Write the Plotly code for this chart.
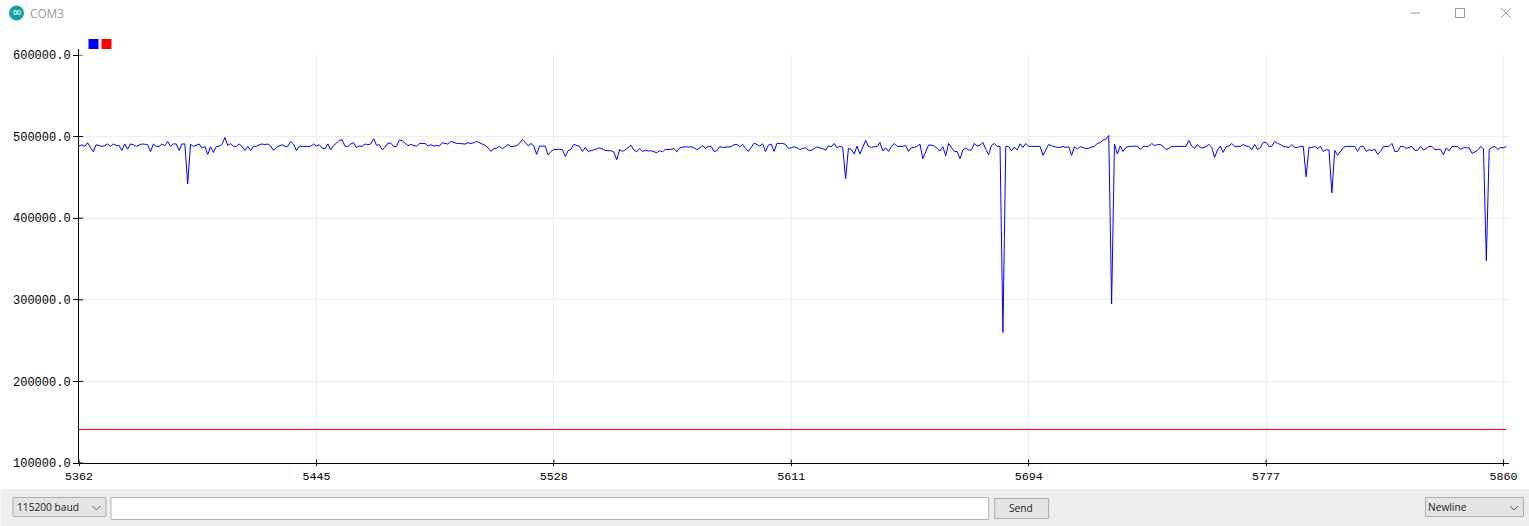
import plotly.graph_objects as go

x_start = 5362
blue_k = [
488.6,489.8,488,492.6,486.5,481.6,490,489,488,489,491,488,491,489,489,483,491,484.5,491,490,
488,489.5,491,490.6,490,481.6,491,488,488,491,488.6,494,488,491,491,483,491,491,442,490.5,
488,489.5,491,486,488,478,487.5,480.5,488,488,490.5,499,489,491.5,488,488,491,488,483,488,
483,488,488,490,491,490,491,488.5,483,487,489,490,488,488,494,491,483,488,488,488,
488,488,491,488.5,490,486,485,491,484,489,492,495.5,496,488,488,491,492.6,486.5,488.5,488,
491,490,491,497.5,489.5,490,484,487,492,492,488,488,495.9,494.9,492,488.8,490.4,489.6,488,491.6,
491.6,491.6,488.4,490,488.4,489.2,488.4,492.5,491.6,490.8,494.1,492.5,491.6,491.6,490.8,490.8,492.5,491.6,492.5,494.1,
492.5,490.8,489.2,486.3,481.8,485.1,485.9,488,485.1,487.6,490.4,487.6,488,488.8,491.6,496.5,492.9,488.8,491.6,488.4,
478.2,488.4,488.4,488.4,477.4,481.8,484.3,484.7,484.3,483.9,475.7,482.7,484.7,490.4,488.8,488,481.8,486.7,481.8,482.7,
483.5,484.7,486.3,484.3,483.1,482.7,482.7,481,471.6,484.3,481.8,483.9,486.3,489.2,483.5,481.4,485.5,481.8,483.1,482.3,
482.7,481.4,480.2,482.7,481.4,484.3,484.3,484.3,485.5,481.4,486.3,487.1,487.6,487.1,487.6,486.3,483.9,486.3,489.2,485.5,
488,488,481.8,482.7,487.6,486.7,486.7,487.1,487.6,490,490.4,487.6,490.4,485.5,481.8,486.7,492,490.4,488.4,491.2,
481.8,489.6,490.8,481.8,491.6,491.6,491.6,490.4,485.5,486.3,487.6,486.3,484.3,485.5,486.3,483.1,483.1,485.1,487.6,485.9,
485.5,483.1,488.8,487.6,491.6,486.3,488.4,486.7,448.4,485.5,484.3,478.6,488.4,478.6,487.6,495.3,488,486.7,487.6,487.6,
492.9,482.3,486.3,481.8,487.6,491.6,488,488,488,489.2,481.8,486.7,486.7,488,490.8,472.9,481.8,489.6,489.6,488.4,
485.5,482.3,487.6,476.5,491.6,486.7,481.8,481.8,472.9,483.5,485.9,483.5,483.5,491.6,488.4,489.6,492.9,484.3,477.8,489.2,
491.6,488,488,260,488,488,482.7,487.1,483.5,491.2,486.7,491.6,488,488,488,488,488,477,483.5,490.4,
488.8,487.6,486.7,486.7,488,486.7,487.6,477,487.6,484.7,487.6,486.7,485.1,485.9,487.1,488,491.6,492.5,495.7,496.9,
501.4,295,490.8,478.6,488.4,481.8,486.7,488,488,488.4,488.4,484.3,488,488,488,491.6,489.2,490,490.4,488,
484.3,485.5,488,488,488,488,488,488,495.3,488.4,485.5,490.4,486.3,486.3,487.6,490.4,486.7,474.5,483.5,488.4,
480.6,487.6,488.4,491.6,488,488,488,490.4,488.4,488,483.9,490.4,484.3,486.3,492.9,492.9,488,488,494.1,491.6,
490.4,488,487.6,486.7,490.4,486.7,486.7,488,488,450.8,486.7,486.7,488,485.5,488,481.8,483.9,483.5,431,483.1,
477,481.8,486.7,488,487.6,488,488,481.8,488,488,481.8,483.9,482.7,484.7,478.2,481.8,487.6,488,488,491.6,
481.8,481.8,488,488,485.5,486.7,488,483.1,483.1,488,483.5,485.5,488,488,483.9,484.3,484.3,477.8,485.9,482.7,
488,488,488,484.3,486.3,486.3,486.3,479.4,481.8,483.1,488,485.1,348,484.3,486.7,488,484.3,486.7,486.3,488,
]
red_level = 141000
x_ticks = [5362, 5445, 5528, 5611, 5694, 5777, 5860]
y_ticks = [100000, 200000, 300000, 400000, 500000, 600000]
y_labels = ["100000.0", "200000.0", "300000.0", "400000.0", "500000.0", "600000.0"]

W, H = 1529, 526
L, R, T, B = 78.5, 1509, 55, 463
xs = [x_start + i for i in range(len(blue_k))]
blue = [v * 1000 for v in blue_k]
red = [red_level for _ in blue_k]
x_max = x_start + (R - L) / (1425 / 498)

def px(x): return (x - L) / (R - L)
def py(y): return (B - y) / (B - T)

shapes = []
def rect(x0, y0, x1, y1, fill, line=None, layer="above"):
    shapes.append(dict(type="rect", xref="paper", yref="paper", x0=px(x0), x1=px(x1), y0=py(y0), y1=py(y1),
                       fillcolor=fill, line=dict(color=line or fill, width=1 if line else 0), layer=layer))
def seg(x0, y0, x1, y1, color="#999999", width=1):
    shapes.append(dict(type="line", xref="paper", yref="paper", x0=px(x0), x1=px(x1), y0=py(y0), y1=py(y1),
                       line=dict(color=color, width=width), layer="above"))

# tick marks crossing the axes, taken from the tick lists
for t in x_ticks:
    shapes.append(dict(type="line", xref="x", yref="paper", x0=t, x1=t, y0=py(463), y1=py(459.5),
                       line=dict(color="black", width=1), layer="above"))
for t in y_ticks:
    shapes.append(dict(type="line", xref="paper", yref="y", x0=0, x1=px(82.5), y0=t, y1=t,
                       line=dict(color="black", width=1), layer="above"))
seg(L - 0.5, 49, L - 0.5, T, "black", 1)

# legend squares
rect(88, 39, 98, 49, "#0000ff")
rect(101, 39, 111, 49, "#ff0000")

# title bar
shapes.append(dict(type="circle", xref="paper", yref="paper", x0=px(8.5), x1=px(23.5), y0=py(5.5), y1=py(20.5),
                   fillcolor="#17a1a5", line=dict(width=0), layer="above"))
seg(1410, 13, 1420, 13)
rect(1455.5, 8.5, 1464.5, 17.5, "rgba(0,0,0,0)", "#999999")
seg(1501, 8, 1511, 18)
seg(1501, 18, 1511, 8)

# bottom strip
rect(0, 489, W, H, "#eeeeee", layer="below")
rect(12.5, 497.5, 105.5, 516.5, "#e4e4e4", "#adadad")
rect(110.5, 497.5, 988.5, 519.5, "#ffffff", "#b4b4b4")
rect(994.5, 498.5, 1048.5, 518.5, "#e4e4e4", "#adadad")
rect(1425.5, 497.5, 1523.5, 516.5, "#e4e4e4", "#adadad")
for cx in (96, 1514):
    seg(cx - 4, 506, cx, 510, "#555555")
    seg(cx, 510, cx + 4, 506, "#555555")

def text(x, y, s, size=12, color="#222222", anchor="left", family="Open Sans"):
    return dict(text=s, xref="paper", yref="paper", x=px(x), y=py(y), showarrow=False, xanchor=anchor,
                yanchor="middle", font=dict(family=family, size=size, color=color))

annotations = [
    text(16, 12.5, "∞", 12, "#ffffff", "center", "DejaVu Sans"),
    text(27, 13, "COM3", 11.8, "#999999"),
    text(14, 507, "115200 baud", 10.2),
    text(1020.5, 508, "Send", 10.2, anchor="center"),
    text(1426, 507, "Newline", 10.2),
]

fig = go.Figure()
fig.add_trace(go.Scatter(x=xs, y=red, mode="lines", line=dict(color="#ff0000", width=1), hoverinfo="skip"))
fig.add_trace(go.Scatter(x=xs, y=blue, mode="lines", line=dict(color="#0000ff", width=1), hoverinfo="skip"))
tick_font = dict(family="Liberation Mono", size=12, color="black")
x_tick_font = dict(family="Liberation Mono", size=11.7, color="black")
fig.update_layout(
    width=W, height=H, autosize=False, showlegend=False,
    margin=dict(l=L, r=W - R, t=T, b=H - B, pad=0),
    paper_bgcolor="white", plot_bgcolor="white",
    shapes=shapes, annotations=annotations,
    xaxis=dict(range=[x_start, x_max], tickmode="array", tickvals=x_ticks, ticktext=[str(t) for t in x_ticks],
               showgrid=True, gridcolor="#eeeeee", gridwidth=1, zeroline=False,
               showline=True, linecolor="black", linewidth=1, ticks="outside", ticklen=2, tickcolor="black",
               tickfont=x_tick_font),
    yaxis=dict(range=[100000, 600000], tickmode="array", tickvals=y_ticks, ticktext=y_labels,
               showgrid=True, gridcolor="#eeeeee", gridwidth=1, zeroline=False,
               showline=True, linecolor="black", linewidth=1, ticks="outside", ticklen=5, tickcolor="black",
               tickfont=tick_font),
)
fig.write_html("out.html", config=dict(displayModeBar=False),
               post_script="document.body.style.margin='0';")
